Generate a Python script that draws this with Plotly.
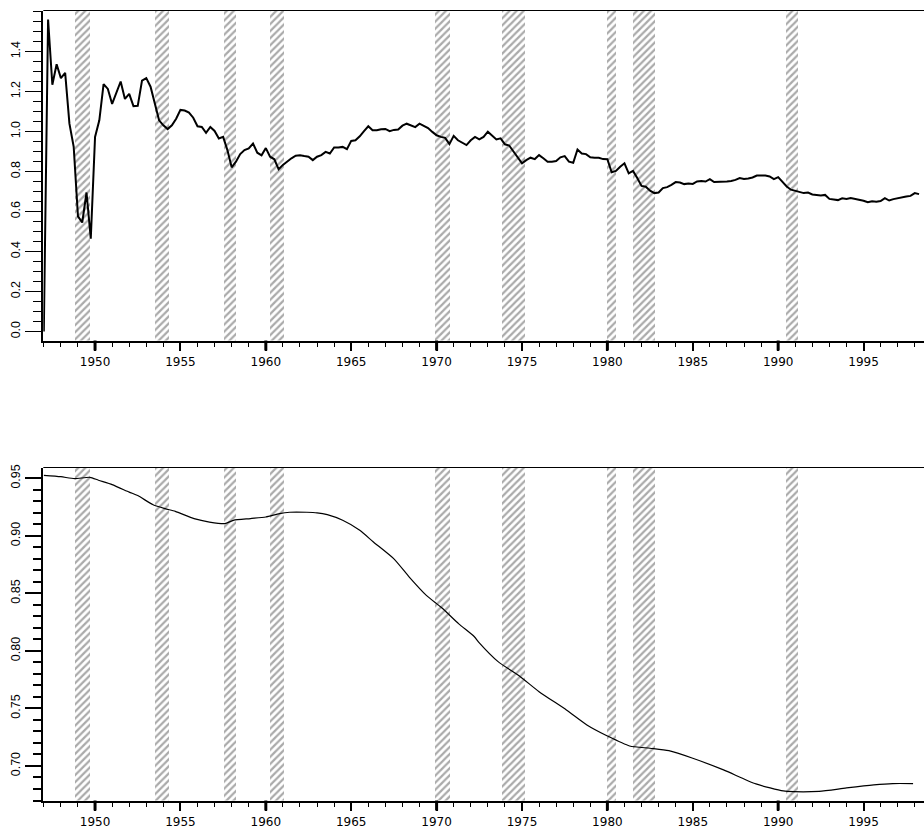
import numpy as np
import plotly.graph_objects as go

# Quarterly ratio, starting 1947Q1
ratio_q = [
    0.000, 1.560, 1.234, 1.336,
    1.267, 1.293, 1.039, 0.923,
    0.576, 0.545, 0.695, 0.464,
    0.973, 1.056, 1.237, 1.213,
    1.138, 1.196, 1.250, 1.163,
    1.188, 1.127, 1.128, 1.254,
    1.267, 1.224, 1.146, 1.056,
    1.031, 1.012, 1.031, 1.064,
    1.108, 1.105, 1.095, 1.069,
    1.026, 1.023, 0.993, 1.023,
    1.003, 0.965, 0.973, 0.907,
    0.821, 0.849, 0.887, 0.907,
    0.916, 0.940, 0.894, 0.881,
    0.917, 0.874, 0.861, 0.811,
    0.833, 0.852, 0.866, 0.879,
    0.881, 0.877, 0.874, 0.857,
    0.874, 0.882, 0.898, 0.890,
    0.920, 0.920, 0.923, 0.912,
    0.953, 0.956, 0.976, 1.002,
    1.026, 1.006, 1.006, 1.011,
    1.013, 1.002, 1.008, 1.010,
    1.029, 1.039, 1.031, 1.022,
    1.039, 1.026, 1.017, 0.998,
    0.981, 0.973, 0.968, 0.937,
    0.978, 0.956, 0.945, 0.932,
    0.956, 0.973, 0.961, 0.973,
    0.999, 0.978, 0.960, 0.966,
    0.936, 0.930, 0.902, 0.874,
    0.841, 0.857, 0.869, 0.862,
    0.882, 0.866, 0.849, 0.849,
    0.852, 0.871, 0.877, 0.849,
    0.844, 0.910, 0.890, 0.887,
    0.871, 0.869, 0.869, 0.862,
    0.861, 0.796, 0.803, 0.824,
    0.841, 0.791, 0.803, 0.767,
    0.728, 0.724, 0.704, 0.692,
    0.695, 0.717, 0.722, 0.733,
    0.747, 0.745, 0.737, 0.740,
    0.738, 0.750, 0.753, 0.750,
    0.762, 0.747, 0.747, 0.747,
    0.750, 0.753, 0.758, 0.767,
    0.763, 0.765, 0.770, 0.780,
    0.781, 0.780, 0.775, 0.762,
    0.772, 0.750, 0.725, 0.709,
    0.704, 0.700, 0.692, 0.695,
    0.685, 0.683, 0.680, 0.683,
    0.663, 0.660, 0.657, 0.666,
    0.663, 0.667, 0.663, 0.660,
    0.654, 0.646, 0.651, 0.649,
    0.652, 0.667, 0.655, 0.662,
    0.667, 0.672, 0.675, 0.678,
    0.692, 0.687,
]
first_year = 1947
ratio_years = first_year + np.arange(len(ratio_q)) / 4.0

# Smooth trend
trend_years = [1947.0, 1948.0, 1948.8, 1949.7, 1950.2, 1951.0, 1952.0, 1952.5,
               1953.4, 1954.1, 1954.7, 1955.8, 1956.7, 1957.6, 1958.1, 1959.1,
               1960.0, 1960.8, 1961.4, 1962.4, 1963.0, 1963.6, 1964.5, 1965.5,
               1966.3, 1967.5, 1968.4, 1969.4, 1970.3, 1971.3, 1972.2, 1972.5,
               1973.6, 1974.9, 1976.0, 1977.6, 1978.8, 1980.0, 1981.3, 1982.5,
               1983.6, 1985.0, 1986.8, 1988.7, 1990.3, 1990.9, 1992.4, 1994.0,
               1995.6, 1996.7, 1997.9]
trend_vals = [0.9526, 0.9514, 0.9497, 0.9509, 0.9483, 0.9445, 0.9380, 0.9350,
              0.9270, 0.9236, 0.9213, 0.9150, 0.9120, 0.9106, 0.9135, 0.9150,
              0.9164, 0.9193, 0.9205, 0.9205, 0.9200, 0.9184, 0.9135, 0.9048,
              0.8947, 0.8800, 0.8642, 0.8483, 0.8375, 0.8235, 0.8125, 0.8070,
              0.7907, 0.7776, 0.7646, 0.7487, 0.7357, 0.7261, 0.7174, 0.7154,
              0.7133, 0.7067, 0.6966, 0.6844, 0.6783, 0.6777, 0.6780, 0.6809,
              0.6835, 0.6847, 0.6847]

# Recessions (peak month to trough month)
rec_start = [1948.83, 1953.50, 1957.58, 1960.25, 1969.92, 1973.83, 1980.00, 1981.50, 1990.50]
rec_end = [1949.75, 1954.33, 1958.25, 1961.08, 1970.83, 1975.17, 1980.50, 1982.83, 1991.17]

# Axis ticks and labels
year_ticks = [1950, 1955, 1960, 1965, 1970, 1975, 1980, 1985, 1990, 1995]
year_labels = [str(y) for y in year_ticks]
decade_ticks = [1950, 1960, 1970, 1980, 1990]
top_ticks = [0.0, 0.2, 0.4, 0.6, 0.8, 1.0, 1.2, 1.4]
top_labels = ["0.0", "0.2", "0.4", "0.6", "0.8", "1.0", "1.2", "1.4"]
bot_ticks = [0.70, 0.75, 0.80, 0.85, 0.90, 0.95]
bot_labels = ["0.70", "0.75", "0.80", "0.85", "0.90", "0.95"]

X_RANGE = [1946.97, 1998.54]
TOP_RANGE = [-0.045, 1.605]
BOT_RANGE = [0.6700, 0.9594]

# plot boxes in pixels (top, bottom), half-pixel aligned for crisp 1px frames
W, H = 924, 830
X_DOMAIN = [43.3 / W, 1.0]
TOP_DOMAIN = [1 - 340.5 / H, 1 - 10.5 / H]
BOT_DOMAIN = [1 - 800.5 / H, 1 - 467.5 / H]

X_FONT = dict(family="DejaVu Sans, Liberation Sans, Arial", size=12, color="black")
Y_FONT = dict(family="Liberation Sans Narrow, Arial Narrow, Liberation Sans, Arial",
              size=12.5, color="black")

centers = [(a + b) / 2 for a, b in zip(rec_start, rec_end)]
widths = [b - a for a, b in zip(rec_start, rec_end)]


def bands(xa, ya, yr):
    return go.Bar(
        x=centers, width=widths,
        base=[yr[0]] * len(centers),
        y=[yr[1] - yr[0]] * len(centers),
        xaxis=xa, yaxis=ya,
        marker=dict(color="rgba(0,0,0,0)", line=dict(width=0),
                    pattern=dict(shape="/", fgcolor="#555555",
                                 bgcolor="rgba(0,0,0,0)", size=5, solidity=0.45)),
        showlegend=False, hoverinfo="skip",
    )


fig = go.Figure()
fig.add_trace(bands("x", "y", TOP_RANGE))
fig.add_trace(bands("x2", "y2", BOT_RANGE))
fig.add_trace(go.Scatter(x=ratio_years, y=ratio_q, mode="lines",
                         line=dict(color="black", width=2),
                         xaxis="x", yaxis="y", showlegend=False,
                         hoverinfo="skip"))
fig.add_trace(go.Scatter(x=trend_years, y=trend_vals, mode="lines",
                         line=dict(color="black", width=1.2, shape="spline",
                                   smoothing=0.6),
                         xaxis="x2", yaxis="y2", showlegend=False,
                         hoverinfo="skip"))


def year_axis(anchor):
    return dict(
        domain=X_DOMAIN, anchor=anchor, range=X_RANGE, automargin=False,
        tickmode="array", tickvals=year_ticks, ticktext=year_labels,
        ticks="outside", ticklen=9, tickwidth=1.5, tickcolor="black",
        minor=dict(tickmode="linear", tick0=first_year, dtick=1, ticks="outside",
                   ticklen=5, tickwidth=1.4, tickcolor="black"),
        showline=True, linewidth=1.5, linecolor="black",
        showgrid=False, zeroline=False, tickfont=X_FONT,
    )


def value_axis(anchor, domain, rng, tv, tt, minor_step, tw):
    return dict(
        domain=domain, anchor=anchor, range=rng, automargin=False,
        tickmode="array", tickvals=tv, ticktext=tt, tickangle=-90,
        ticks="outside", ticklen=16, tickwidth=tw, tickcolor="black",
        minor=dict(tickmode="linear", tick0=tv[0], dtick=minor_step,
                   ticks="outside", ticklen=8, tickwidth=tw, tickcolor="black"),
        showline=True, linewidth=2, linecolor="black",
        showgrid=False, zeroline=False, tickfont=Y_FONT,
    )


# frame tops and heavier marks on the decade years
shapes = [
    dict(type="line", xref="x domain", yref="y domain", x0=0, x1=1, y0=1, y1=1,
         line=dict(color="black", width=1)),
    dict(type="line", xref="x2 domain", yref="y2 domain", x0=0, x1=1, y0=1, y1=1,
         line=dict(color="black", width=1)),
]
for xr, dom in (("x", TOP_DOMAIN), ("x2", BOT_DOMAIN)):
    for d in decade_ticks:
        shapes.append(dict(type="line", xref=xr, yref="paper", x0=d, x1=d,
                           y0=dom[0], y1=dom[0] - 10 / H,
                           line=dict(color="black", width=3)))

fig.update_layout(
    width=W, height=H,
    margin=dict(l=0, r=0, t=0, b=0),
    paper_bgcolor="white", plot_bgcolor="white",
    barmode="overlay", bargap=0,
    xaxis=year_axis("y"),
    xaxis2=year_axis("y2"),
    yaxis=value_axis("x", TOP_DOMAIN, TOP_RANGE, top_ticks, top_labels, 0.05, 1.2),
    yaxis2=value_axis("x2", BOT_DOMAIN, BOT_RANGE, bot_ticks, bot_labels, 0.01, 1.5),
    shapes=shapes,
)

fig.write_html("out.html")
